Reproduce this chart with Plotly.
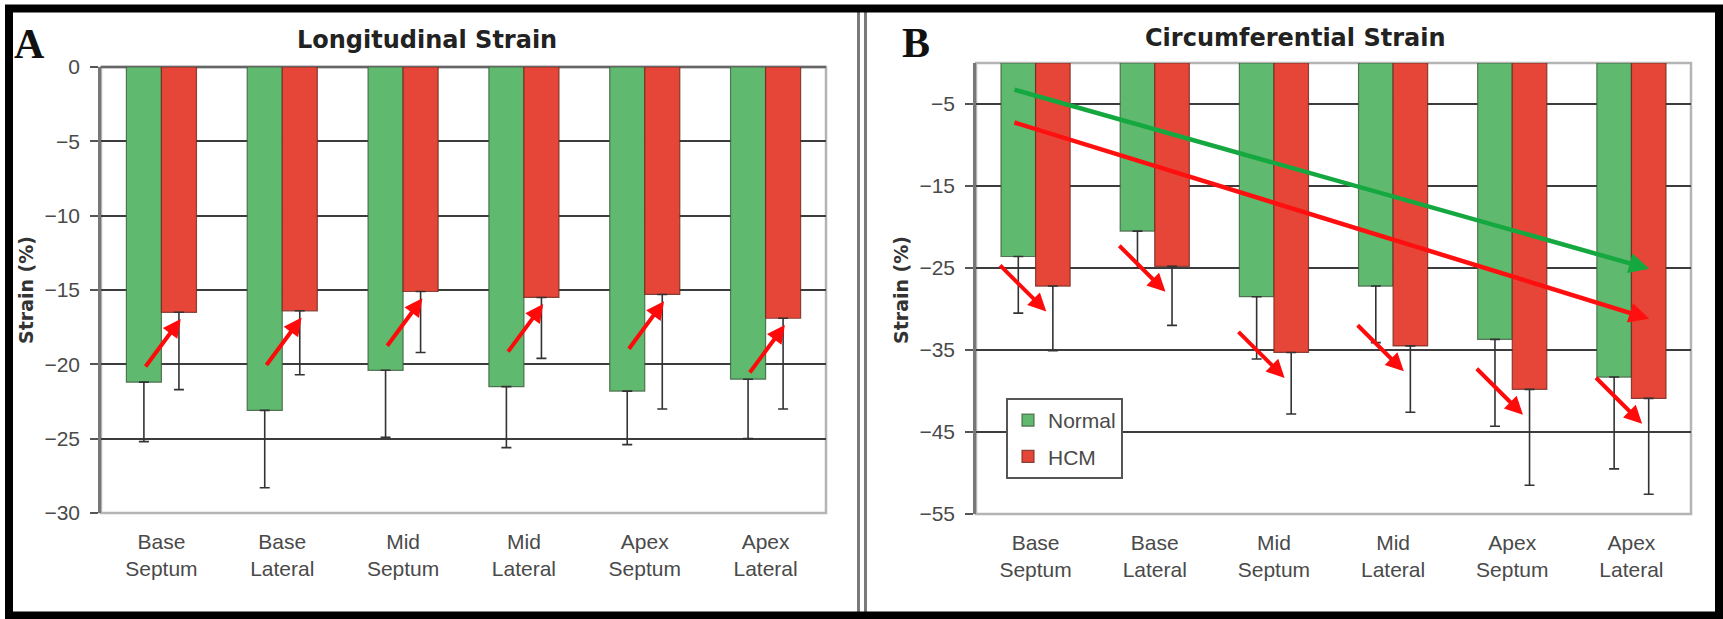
import plotly.graph_objects as go

# ---------------- data ----------------
categories = ["Base<br>Septum", "Base<br>Lateral", "Mid<br>Septum",
              "Mid<br>Lateral", "Apex<br>Septum", "Apex<br>Lateral"]

long_normal = [-21.2, -23.1, -20.4, -21.5, -21.8, -21.0]
long_normal_err = [4.0, 5.2, 4.5, 4.1, 3.6, 4.0]
long_hcm = [-16.5, -16.4, -15.1, -15.5, -15.3, -16.9]
long_hcm_err = [5.2, 4.3, 4.1, 4.1, 7.7, 6.1]

circ_normal = [-23.6, -20.5, -28.5, -27.2, -33.7, -38.3]
circ_normal_err = [6.9, 4.5, 7.6, 6.9, 10.6, 11.2]
circ_hcm = [-27.2, -24.8, -35.3, -34.5, -39.8, -40.9]
circ_hcm_err = [7.9, 7.2, 7.5, 8.1, 11.7, 11.7]

long_ticks = [0, -5, -10, -15, -20, -25, -30]
circ_ticks = [-5, -15, -25, -35, -45, -55]

# trend arrows in panel B (start/end in category index / strain units)
trend_normal = [(-0.19, -3.2), (5.15, -25.1)]
trend_hcm = [(-0.19, -7.2), (5.15, -31.2)]

# ---------------- style ----------------
GREEN = "#5fb96e"
RED = "#e64637"
TICKFONT = dict(family="Liberation Sans, Arial", size=21, color="#4a4a4a")
TITLEFONT = dict(family="DejaVu Sans", size=24, color="#222222", weight="bold")

W, H = 1723, 619


def px_x(p):
    return p / W


def px_y(p):
    return 1 - p / H


fig = go.Figure()


def add_bars(xa, ya, normal, nerr, hcm, herr, show):
    fig.add_trace(go.Bar(
        x=categories, y=normal, name="Normal", xaxis=xa, yaxis=ya,
        marker=dict(color=GREEN, line=dict(color="rgba(60,90,60,0.8)", width=1.2)),
        error_y=dict(type="data", symmetric=False, array=[0] * len(normal),
                     arrayminus=nerr, color="#333333", thickness=1.6, width=5),
        showlegend=show, legendgroup="n"))
    fig.add_trace(go.Bar(
        x=categories, y=hcm, name="HCM", xaxis=xa, yaxis=ya,
        marker=dict(color=RED, line=dict(color="rgba(110,40,30,0.8)", width=1.2)),
        error_y=dict(type="data", symmetric=False, array=[0] * len(hcm),
                     arrayminus=herr, color="#333333", thickness=1.6, width=5),
        showlegend=show, legendgroup="h"))


add_bars("x", "y", long_normal, long_normal_err, long_hcm, long_hcm_err, False)
add_bars("x2", "y2", circ_normal, circ_normal_err, circ_hcm, circ_hcm_err, True)

axis_common = dict(showgrid=True, gridcolor="#3c3c3c", gridwidth=2,
                   showline=True, linecolor="#777777", linewidth=2.5,
                   ticks="outside", ticklen=8, tickcolor="#555555", tickwidth=2,
                   tickfont=TICKFONT, zeroline=False, ticklabelstandoff=6,
                   automargin=False)

xaxis_common = dict(type="category", showgrid=False, showline=False, ticks="",
                    tickfont=TICKFONT, ticklabelstandoff=14, range=[-0.5, 5.5],
                    autorange=False, automargin=False)

fig.update_layout(
    width=W, height=H, autosize=False,
    margin=dict(l=0, r=0, t=0, b=0, pad=0, autoexpand=False),
    paper_bgcolor="white", plot_bgcolor="white",
    barmode="group", bargap=0.42, bargroupgap=0.0,
    xaxis=dict(domain=[px_x(101), px_x(826)], anchor="y", **xaxis_common),
    yaxis=dict(domain=[px_y(513), px_y(67)], anchor="x", range=[-30, 0],
               autorange=False, tickvals=long_ticks, **axis_common),
    xaxis2=dict(domain=[px_x(976), px_x(1691)], anchor="y2", **xaxis_common),
    yaxis2=dict(domain=[px_y(514), px_y(63)], anchor="x2", range=[-55, 0],
                autorange=False, tickvals=circ_ticks, **axis_common),
    legend=dict(x=px_x(1006), y=px_y(398), xanchor="left", yanchor="top",
                bgcolor="white", bordercolor="#555555", borderwidth=2,
                font=dict(family="Liberation Sans, Arial", size=21, color="#4a4a4a"),
                itemwidth=30, tracegroupgap=6),
)

shapes = []
# plot area borders
for xr, yr in (("x domain", "y domain"), ("x2 domain", "y2 domain")):
    shapes.append(dict(type="rect", xref=xr, yref=yr, x0=0, x1=1, y0=0, y1=1,
                       line=dict(color="#b4b4b4", width=2.5), layer="below"))
# dark top line at 0 in panel A
shapes.append(dict(type="line", xref="x domain", yref="y domain", x0=0, x1=1, y0=1, y1=1,
                   line=dict(color="#666666", width=2.5), layer="below"))
# separator (double line)
for xp in (858.5, 865.5):
    shapes.append(dict(type="line", xref="paper", yref="paper",
                       x0=px_x(xp), x1=px_x(xp), y0=px_y(612), y1=px_y(12),
                       line=dict(color="#7a7a7a", width=3)))
# outer black frame
shapes.append(dict(type="rect", xref="paper", yref="paper",
                   x0=px_x(9), x1=px_x(1719), y0=px_y(615.5), y1=px_y(8.5),
                   line=dict(color="black", width=8)))
fig.update_layout(shapes=shapes)

ann = []
# titles and panel letters
ann.append(dict(text="Longitudinal Strain", x=px_x(427), y=px_y(40), xref="paper", yref="paper",
                showarrow=False, font=TITLEFONT, xanchor="center", yanchor="middle"))
ann.append(dict(text="Circumferential Strain", x=px_x(1295), y=px_y(38), xref="paper", yref="paper",
                showarrow=False, font=TITLEFONT, xanchor="center", yanchor="middle"))
ann.append(dict(text="A", x=px_x(30), y=px_y(44), xref="paper", yref="paper", showarrow=False,
                font=dict(family="Liberation Serif", size=42, color="#111111", weight="bold"),
                xanchor="center", yanchor="middle"))
ann.append(dict(text="B", x=px_x(916), y=px_y(43), xref="paper", yref="paper", showarrow=False,
                font=dict(family="Liberation Serif", size=42, color="#111111", weight="bold"),
                xanchor="center", yanchor="middle"))
# y-axis titles
ann.append(dict(text="Strain (%)", x=px_x(26), y=px_y(290), xref="paper", yref="paper",
                showarrow=False, textangle=-90,
                font=dict(family="DejaVu Sans", size=19, color="#333333", weight="bold"),
                xanchor="center", yanchor="middle"))
ann.append(dict(text="Strain (%)", x=px_x(901), y=px_y(290), xref="paper", yref="paper",
                showarrow=False, textangle=-90,
                font=dict(family="DejaVu Sans", size=19, color="#333333", weight="bold"),
                xanchor="center", yanchor="middle"))

# red arrows in panel A (pointing up-right at the HCM bar ends)
for i, v in enumerate(long_hcm):
    hx, hy = i + 0.16, v - 0.45
    ann.append(dict(x=hx, y=hy, ax=hx - 0.30, ay=hy - 3.3, xref="x", yref="y",
                    axref="x", ayref="y", text="", showarrow=True, arrowhead=2,
                    arrowsize=0.9, arrowwidth=4, arrowcolor="#ff0a0a"))
# red arrows in panel B (pointing down-right)
for i, v in enumerate(circ_hcm):
    hx, hy = i + 0.09, v - 3.1
    ann.append(dict(x=hx, y=hy, ax=hx - 0.40, ay=hy + 5.8, xref="x2", yref="y2",
                    axref="x2", ayref="y2", text="", showarrow=True, arrowhead=2,
                    arrowsize=0.9, arrowwidth=4, arrowcolor="#ff0a0a"))
# trend arrows
for tr, col in ((trend_normal, "#16a840"), (trend_hcm, "#ff1010")):
    (x0, y0), (x1, y1) = tr
    ann.append(dict(x=x1, y=y1, ax=x0, ay=y0, xref="x2", yref="y2",
                    axref="x2", ayref="y2", text="", showarrow=True, arrowhead=2,
                    arrowsize=0.9, arrowwidth=4.5, arrowcolor=col))

fig.update_layout(annotations=ann)

fig.write_html("out.html")
